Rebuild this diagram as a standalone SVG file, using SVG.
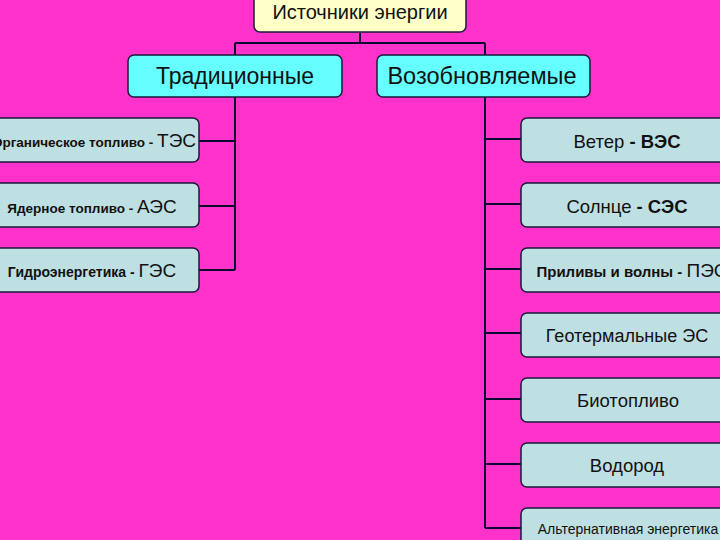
<svg xmlns="http://www.w3.org/2000/svg" width="720" height="540" viewBox="0 0 720 540">
<style>
text{font-family:"Liberation Sans",Arial,sans-serif;fill:#111;text-anchor:middle}
.box{stroke:#1a1a3a;stroke-width:1.5}
.top{fill:#FFFFC8}
.cat{fill:#66FFFF}
.leaf{fill:#BFE0E2}
.ln{stroke:#0a0a30;stroke-width:2;fill:none}
.b{font-weight:bold}
</style>
<rect width="720" height="540" fill="#FF33CC"/>
<g id="connectors">
<path class="ln" d="M360 33V43M235 43H485M235 43V270M485 43V528"/>
<path class="ln" d="M199 141H235M199 206H235M199 270H235"/>
<path class="ln" d="M485 139H521M485 204H521M485 269H521M485 333H521M485 399H521M485 464H521M485 528H521"/>
</g>
<g id="root"><rect class="box top" x="254" y="-8" width="212" height="40" rx="6"/><text x="360" y="19" font-size="20">Источники энергии</text></g>
<g id="trad"><rect class="box cat" x="128" y="55" width="214" height="42" rx="6"/><text x="235" y="84" font-size="23">Традиционные</text></g>
<g id="renew"><rect class="box cat" x="377" y="55" width="213" height="42" rx="6"/><text x="482" y="84" font-size="23.5">Возобновляемые</text></g>
<g id="tes"><rect class="box leaf" x="-15" y="118" width="214" height="44" rx="6"/><text x="94" y="147"><tspan class="b" font-size="13.5">Органическое топливо - </tspan><tspan font-size="19">ТЭС</tspan></text></g>
<g id="aes"><rect class="box leaf" x="-15" y="183" width="214" height="44" rx="6"/><text x="92" y="213"><tspan class="b" font-size="13.5">Ядерное топливо - </tspan><tspan font-size="19">АЭС</tspan></text></g>
<g id="ges"><rect class="box leaf" x="-15" y="248" width="214" height="44" rx="6"/><text x="92" y="277"><tspan class="b" font-size="14">Гидроэнергетика - </tspan><tspan font-size="19">ГЭС</tspan></text></g>
<g id="wind"><rect class="box leaf" x="521" y="118" width="214" height="44" rx="6"/><text x="627" y="148" font-size="18.5"><tspan>Ветер</tspan><tspan class="b"> - ВЭС</tspan></text></g>
<g id="sun"><rect class="box leaf" x="521" y="183" width="214" height="44" rx="6"/><text x="627" y="213" font-size="18.5"><tspan>Солнце</tspan><tspan class="b"> - СЭС</tspan></text></g>
<g id="tide"><rect class="box leaf" x="521" y="248" width="214" height="44" rx="6"/><text x="632" y="277"><tspan class="b" font-size="15">Приливы и волны - </tspan><tspan font-size="19">ПЭС</tspan></text></g>
<g id="geo"><rect class="box leaf" x="521" y="313" width="214" height="44" rx="6"/><text x="627" y="342" font-size="18">Геотермальные ЭС</text></g>
<g id="bio"><rect class="box leaf" x="521" y="378" width="214" height="44" rx="6"/><text x="628" y="407" font-size="18.5">Биотопливо</text></g>
<g id="h2"><rect class="box leaf" x="521" y="443" width="214" height="44" rx="6"/><text x="627" y="472" font-size="18.5">Водород</text></g>
<g id="alt"><rect class="box leaf" x="521" y="508" width="214" height="44" rx="6"/><text x="628" y="534" font-size="14">Альтернативная энергетика</text></g>
</svg>
